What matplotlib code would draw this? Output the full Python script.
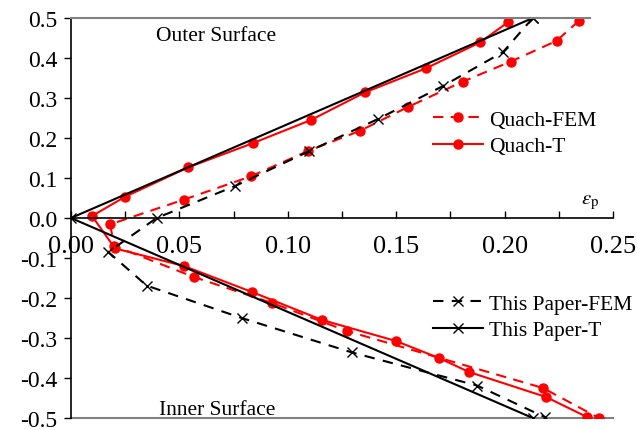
import matplotlib
matplotlib.use("Agg")
import matplotlib.pyplot as plt
from matplotlib.ticker import MultipleLocator

plt.rcParams['font.family'] = ['Liberation Serif', 'DejaVu Serif']
plt.rcParams['mathtext.fontset'] = 'stix'

# ---- data ----
quach_fem_x = [0.2343, 0.2240, 0.2028, 0.1807, 0.1556, 0.1333, 0.1095, 0.0829, 0.0521, 0.0180,
               0.0200, 0.0567, 0.0927, 0.1273, 0.2177, 0.2435]
quach_fem_y = [0.493, 0.443, 0.391, 0.341, 0.278, 0.218, 0.168, 0.104, 0.046, -0.016,
               -0.070, -0.1475, -0.2125, -0.2825, -0.425, -0.500]

quach_t_x = [0.2017, 0.1887, 0.1636, 0.1356, 0.1107, 0.0841, 0.0541, 0.0249, 0.0097,
             0.0203, 0.0521, 0.0835, 0.1158, 0.1499, 0.1697, 0.1836, 0.2191, 0.2380]
quach_t_y = [0.490, 0.439, 0.374, 0.314, 0.245, 0.1875, 0.1267, 0.053, 0.005,
             -0.076, -0.120, -0.185, -0.255, -0.3075, -0.350, -0.385, -0.4475, -0.4975]

paper_fem_x = [0.2130, 0.1993, 0.1716, 0.1416, 0.1100, 0.0757, 0.0395,
               0.0172, 0.0349, 0.0787, 0.1295, 0.1874, 0.2186]
paper_fem_y = [0.500, 0.415, 0.330, 0.2475, 0.1675, 0.080, 0.000,
               -0.085, -0.169, -0.250, -0.336, -0.419, -0.498]

paper_t_x = [0.213, 0.0, 0.213]
paper_t_y = [0.500, 0.0, -0.500]

x_ticks = [0.00, 0.05, 0.10, 0.15, 0.20, 0.25]
x_labels = ["0.00", "0.05", "0.10", "0.15", "0.20", "0.25"]
y_ticks = [0.5, 0.4, 0.3, 0.2, 0.1, 0.0, -0.1, -0.2, -0.3, -0.4, -0.5]
y_labels = ["0.5", "0.4", "0.3", "0.2", "0.1", "0.0", "-0.1", "-0.2", "-0.3", "-0.4", "-0.5"]

fig = plt.figure(figsize=(6.37, 4.31), dpi=100)
ax = fig.add_axes([71/637, 1-419/431, 542/637, 400/431])
ax.set_xlim(0, 0.25)
ax.set_ylim(-0.5, 0.5)

red = '#ff0000'
l1, = ax.plot(quach_fem_x, quach_fem_y, color=red, lw=1.5, ls=(0, (5, 3.5)),
              marker='o', ms=6.5, label='Quach-FEM')
l2, = ax.plot(quach_t_x, quach_t_y, color=red, lw=1.5, ls='-',
              marker='o', ms=6.5, label='Quach-T')
l3, = ax.plot(paper_fem_x, paper_fem_y, color='black', lw=1.5, ls=(0, (5, 4)),
              marker='x', ms=7, mew=1.0, label='This Paper-FEM')
l4, = ax.plot(paper_t_x, paper_t_y, color='black', lw=1.5, ls='-',
              marker='x', ms=7, mew=1.0, label='This Paper-T')

# spines
ax.spines['right'].set_visible(False)
ax.spines['bottom'].set_position(('data', 0))
ax.spines['bottom'].set_color('black')
ax.spines['bottom'].set_linewidth(1.2)
ax.spines['left'].set_linewidth(1.2)
ax.spines['top'].set_color('#808080')
ax.spines['top'].set_linewidth(1.5)
ax.spines['top'].set_bounds(0, 0.2394)
ax.axhline(-0.5, color='#808080', lw=1.5, clip_on=False, zorder=0.5)

ax.set_xticks(x_ticks)
ax.set_xticklabels(x_labels)
ax.xaxis.set_minor_locator(MultipleLocator(0.025))
ax.set_yticks(y_ticks)
ax.set_yticklabels(y_labels)
ax.tick_params(axis='x', which='both', direction='in', length=5, width=1.0,
               labelsize=19, pad=12)
ax.tick_params(axis='y', which='major', direction='out', length=5, width=1.0,
               labelsize=17, pad=5)

ax.text(0.0667, 0.457, 'Outer Surface', fontsize=15.5, ha='center', va='center')
ax.text(0.0676, -0.48, 'Inner Surface', fontsize=15.5, ha='center', va='center')
ax.text(0.2395, 0.042, r'$\varepsilon_{\mathrm{p}}$', fontsize=15, ha='center', va='center')

leg1 = ax.legend(handles=[l1, l2], loc='center left', bbox_to_anchor=(0.668, 0.712),
                 frameon=False, fontsize=15.5, handlelength=2.3, handletextpad=0.3,
                 labelspacing=0.3, borderpad=0, borderaxespad=0)
ax.add_artist(leg1)
ax.legend(handles=[l3, l4], loc='center left', bbox_to_anchor=(0.668, 0.253),
          frameon=False, fontsize=15.5, handlelength=2.3, handletextpad=0.3,
          labelspacing=0.3, borderpad=0, borderaxespad=0)

fig.savefig('out.png', dpi=100)
